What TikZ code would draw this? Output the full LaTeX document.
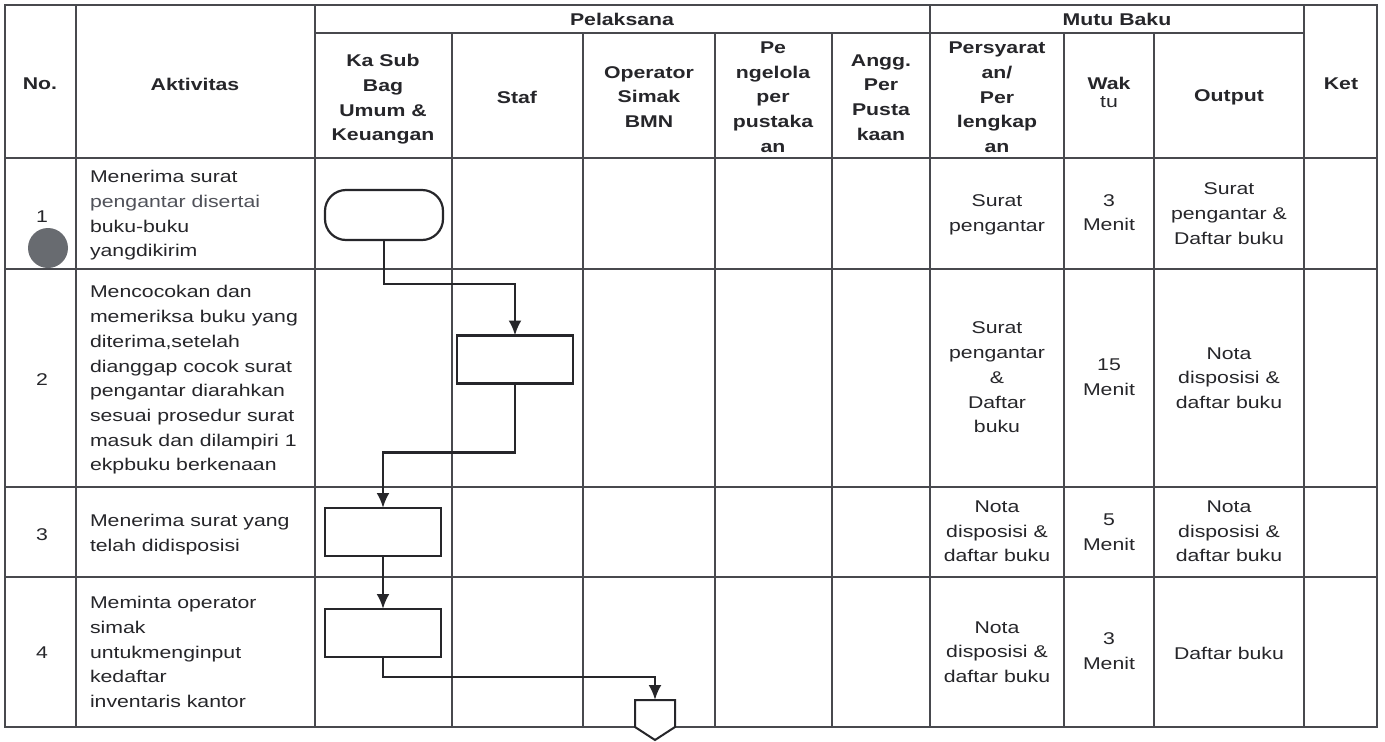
\documentclass[tikz,border=0pt]{standalone}
\usepackage{fontspec}
\setmainfont[FakeStretch=1.25]{Liberation Sans}
\usetikzlibrary{arrows.meta}
\definecolor{ink}{RGB}{38,38,42}
\definecolor{inklight}{RGB}{80,82,90}
\definecolor{rulec}{RGB}{72,73,78}
\definecolor{dotc}{RGB}{104,107,112}
\begin{document}
\begin{tikzpicture}[x=1pt,y=-1pt,
  font=\fontsize{17}{24.7}\selectfont,
  every node/.style={inner sep=0pt, outer sep=0pt, text=ink},
  gridline/.style={draw=rulec, line width=1.4pt},
  hd/.style={font=\fontsize{17}{24.7}\selectfont\bfseries, align=center},
  cellt/.style={align=center},
  actt/.style={align=left, anchor=west},
  procbox/.style={draw=ink, line width=2.2pt, fill=white, minimum width=116pt, minimum height=48pt},
  termbox/.style={procbox, minimum width=118pt, minimum height=50pt, rounded corners=21pt},
  flow/.style={draw=ink, line width=2.6pt, -{Latex[length=15pt,width=13pt]}},
]
\useasboundingbox (0,0) rectangle (1385,742);
\fill[white] (0,0) rectangle (1385,742);

% ---------- table grid ----------
\draw[gridline] (5,5) rectangle (1377,727);
\draw[gridline] (315,33) -- (1304,33);
\foreach \yy in {158,269,487,577} \draw[gridline] (5,\yy) -- (1377,\yy);
\foreach \xx in {76,315,930,1304} \draw[gridline] (\xx,5) -- (\xx,727);
\foreach \xx in {452,583,715,832,1064,1154} \draw[gridline] (\xx,33) -- (\xx,727);

% ---------- header ----------
\node[hd] (hNo) at (40,84) {No.};
\node[hd] (hAkt) at (195,84) {Aktivitas};
\node[hd] (hPel) at (622,19) {Pelaksana};
\node[hd] (hMutu) at (1117,19) {Mutu Baku};
\node[hd] (hKet) at (1341,84) {Ket};
\node[hd] (hKa) at (383,99.5) {Ka Sub\\Bag\\Umum \&\\Keuangan};
\node[hd] (hStaf) at (517,97) {Staf};
\node[hd] (hOp) at (649,97) {Operator\\Simak\\BMN};
\node[hd] (hPeng) at (773,97) {Pe\\ngelola\\per\\pustaka\\an};
\node[hd] (hAngg) at (881,97.5) {Angg.\\Per\\Pusta\\kaan};
\node[hd] (hPers) at (997,97.5) {Persyarat\\an/\\Per\\lengkap\\an};
\node[hd] (hWak) at (1109,83) {Wak};
\node (hTu) at (1109,102) {tu};
\node[hd] (hOut) at (1229,97) {Output};

% ---------- row 1 ----------
\node (n1) at (42,217) {1};
\fill[dotc] (48,248) circle (20);
\node[actt] (a1) at (90,215.5) {Menerima surat\\\textcolor{inklight}{pengantar disertai}\\buku-buku\\yangdikirim};
\node[cellt] (p1) at (997,214.5) {Surat\\pengantar};
\node[cellt] (w1) at (1109,212.5) {3\\Menit};
\node[cellt] (o1) at (1229,213.5) {Surat\\pengantar \&\\Daftar buku};

% ---------- row 2 ----------
\node (n2) at (42,380) {2};
\node[actt] (a2) at (90,380) {Mencocokan dan\\memeriksa buku yang\\diterima,setelah\\dianggap cocok surat\\pengantar diarahkan\\sesuai prosedur surat\\masuk dan dilampiri 1\\ekpbuku berkenaan};
\node[cellt] (p2) at (997,377.5) {Surat\\pengantar\\\&\\Daftar\\buku};
\node[cellt] (w2) at (1109,377.5) {15\\Menit};
\node[cellt] (o2) at (1229,378) {Nota\\disposisi \&\\daftar buku};

% ---------- row 3 ----------
\node (n3) at (42,535) {3};
\node[actt] (a3) at (90,534.5) {Menerima surat yang\\telah didisposisi};
\node[cellt] (p3) at (997,531.5) {Nota\\disposisi \&\\daftar buku};
\node[cellt] (w3) at (1109,532) {5\\Menit};
\node[cellt] (o3) at (1229,531.5) {Nota\\disposisi \&\\daftar buku};

% ---------- row 4 ----------
\node (n4) at (42,653) {4};
\node[actt] (a4) at (90,652) {Meminta operator\\simak\\untukmenginput\\kedaftar\\inventaris kantor};
\node[cellt] (p4) at (997,652) {Nota\\disposisi \&\\daftar buku};
\node[cellt] (w4) at (1109,651) {3\\Menit};
\node[cellt] (o4) at (1229,653) {Daftar buku};

% ---------- flow shapes ----------
\node[termbox] (t1) at (384,215) {};
\node[procbox] (b2) at (515,359.5) {};
\node[procbox] (b3) at (383,532) {};
\node[procbox] (b4) at (383,633) {};
\coordinate (op) at (655,700);
\draw[draw=ink, line width=2pt, fill=white, shift={(op)}] (-20,0) -- (20,0) -- (20,27) -- (0,40) -- (-20,27) -- cycle;

% ---------- connectors ----------
\draw[flow] (t1.south) -- ++(0,44) -| (b2.north);
\draw[flow] (b2.south) -- ++(0,69) -| (b3.north);
\draw[flow] (b3.south) -- (b4.north);
\draw[flow] (b4.south) -- ++(0,20) -| (op);
\end{tikzpicture}
\end{document}
